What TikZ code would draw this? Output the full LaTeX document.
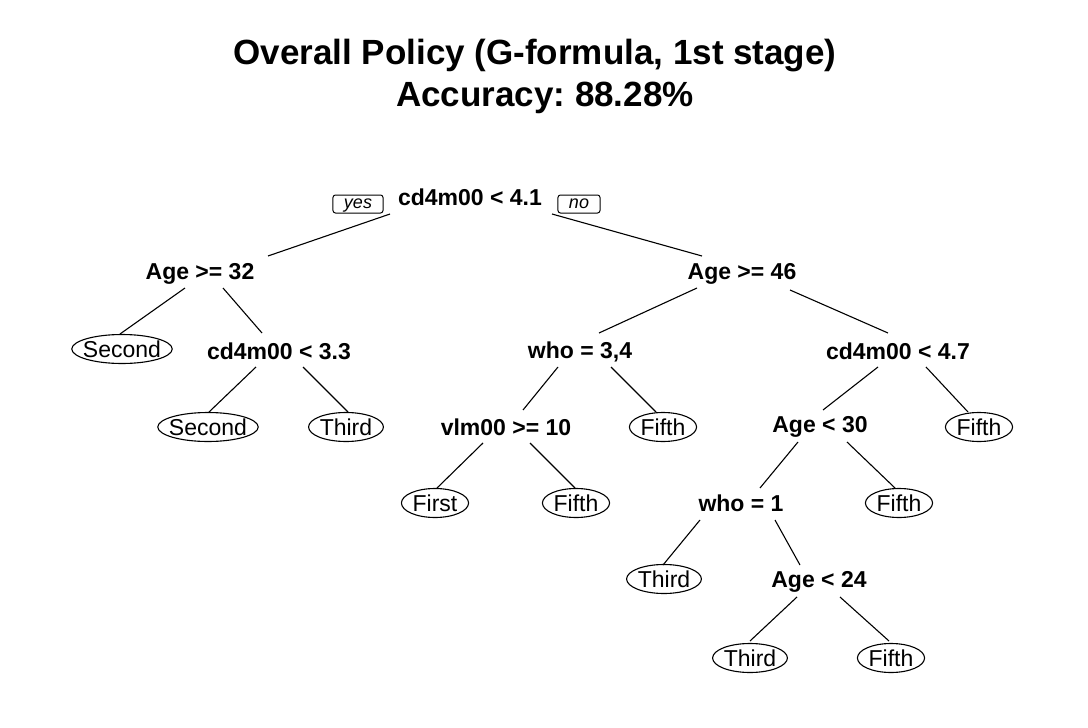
\documentclass[tikz,border=0pt]{standalone}
\usepackage{fontspec}
\setmainfont{Liberation Sans}
\usetikzlibrary{calc}
\begin{document}
\begin{tikzpicture}[x=1pt,y=-1pt,
  split/.style={font=\fontsize{23}{27}\selectfont\bfseries, inner sep=0pt, text height=16.5pt, text depth=0pt},
  leaf/.style={font=\fontsize{23}{27}\selectfont, inner xsep=11pt, inner ysep=0pt,
    text height=16.5pt, text depth=0pt, minimum height=29pt,
    append after command={\pgfextra{\edef\leafname{\tikzlastnode}%
      \draw[line width=1.1pt] let \p1=(\leafname.east), \p3=(\leafname.center)
        in (\p3) ellipse [x radius={\x1-\x3}, y radius=14.5pt];}}},
  yn/.style={draw, rounded corners=2.5pt, font=\fontsize{18}{20}\selectfont\itshape, minimum height=18pt, inner xsep=11pt, inner ysep=0pt, text height=9pt, text depth=0pt, line width=1pt},
  title/.style={font=\fontsize{35}{40}\selectfont\bfseries\frenchspacing},
  edge/.style={line width=1.1pt}]
\useasboundingbox[fill=white] (0,0) rectangle (1088,728);
\node[title] (t1) at (535,56) {Overall Policy (G-formula, 1st stage)};
\node[title] (t2) at (545,98) {Accuracy: 88.28\%};

\node[split] (root) at (470,197) {cd4m00 < 4.1};
\node[yn] (yes) at (358,204) {yes};
\node[yn] (no) at (579,204) {no};

\node[split] (a32) at (200,271) {Age >= 32};
\node[leaf] (s1) at (122,349) {Second};
\node[split] (c33) at (279,351) {cd4m00 < 3.3};
\node[leaf] (s2) at (208,427) {Second};
\node[leaf] (t1l) at (346,427) {Third};

\node[split] (a46) at (742,271) {Age >= 46};
\node[split] (w34) at (580,350) {who = 3,4};
\node[split] (v10) at (506,427) {vlm00 >= 10};
\node[leaf] (f1) at (663,427) {Fifth};
\node[leaf] (fi) at (435,503) {First};
\node[leaf] (f2) at (576,503) {Fifth};

\node[split] (c47) at (898,351) {cd4m00 < 4.7};
\node[split] (a30) at (820,424) {Age < 30};
\node[leaf] (f3) at (979,427) {Fifth};
\node[split] (w1) at (741,503) {who = 1};
\node[leaf] (f4) at (899,503) {Fifth};
\node[leaf] (t2l) at (664,579) {Third};
\node[split] (a24) at (819,579) {Age < 24};
\node[leaf] (t3l) at (750,658) {Third};
\node[leaf] (f5) at (891,658) {Fifth};

\draw[edge] ($(root)+(-80,17)$) -- ($(a32)+(68,-15)$);
\draw[edge] ($(root)+(82,17)$) -- ($(a46)+(-40,-15)$);
\draw[edge] ($(a32)+(-15,17)$) -- ($(s1)+(-2,-15)$);
\draw[edge] ($(a32)+(23,17)$) -- ($(c33)+(-17,-18)$);
\draw[edge] ($(c33)+(-23,16)$) -- ($(s2)+(1,-15)$);
\draw[edge] ($(c33)+(24,16)$) -- ($(t1l)+(2,-15)$);
\draw[edge] ($(a46)+(-45,17)$) -- ($(w34)+(19,-17)$);
\draw[edge] ($(a46)+(48,19)$) -- ($(c47)+(-10,-18)$);
\draw[edge] ($(w34)+(-22,17)$) -- ($(v10)+(17,-17)$);
\draw[edge] ($(w34)+(31,17)$) -- ($(f1)+(-7,-15)$);
\draw[edge] ($(v10)+(-23,16)$) -- ($(fi)+(2,-15)$);
\draw[edge] ($(v10)+(24,16)$) -- ($(f2)+(-1,-15)$);
\draw[edge] ($(c47)+(-20,16)$) -- ($(a30)+(3,-14)$);
\draw[edge] ($(c47)+(28,16)$) -- ($(f3)+(-11,-15)$);
\draw[edge] ($(a30)+(-22,18)$) -- ($(w1)+(19,-15)$);
\draw[edge] ($(a30)+(27,18)$) -- ($(f4)+(-4,-15)$);
\draw[edge] ($(w1)+(-41,17)$) -- ($(t2l)+(-1,-14)$);
\draw[edge] ($(w1)+(34,17)$) -- ($(a24)+(-19,-14)$);
\draw[edge] ($(a24)+(-22,18)$) -- ($(t3l)+(0,-17)$);
\draw[edge] ($(a24)+(21,18)$) -- ($(f5)+(-2,-17)$);
\end{tikzpicture}
\end{document}
